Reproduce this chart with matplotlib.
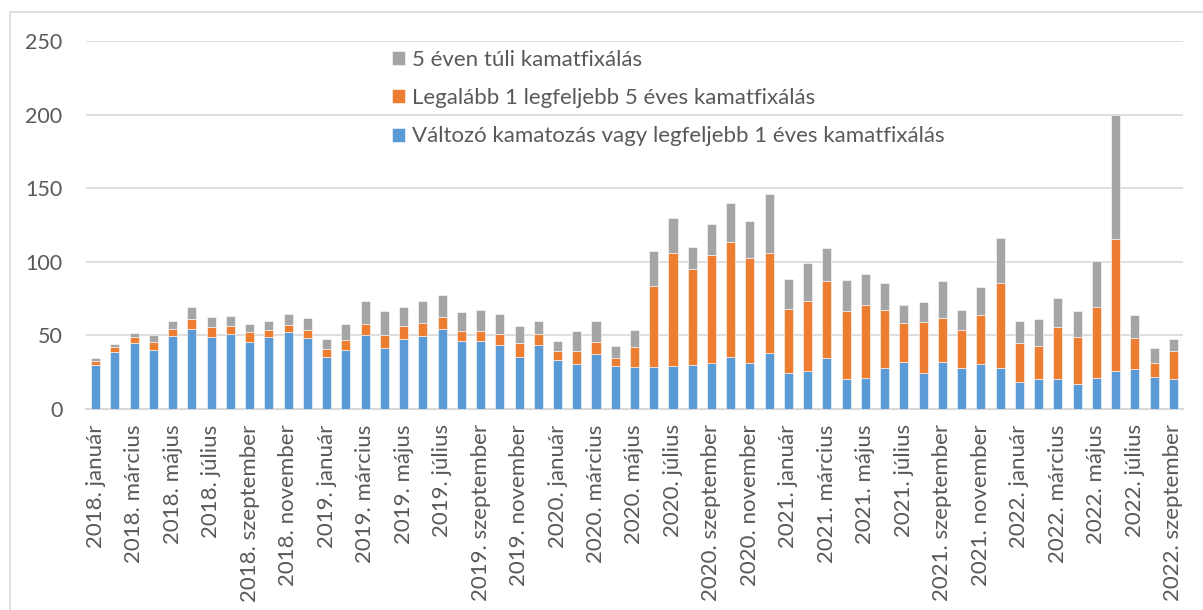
import matplotlib.pyplot as plt
import numpy as np
from matplotlib.patches import Rectangle

# --- adatok ---
years = [2018, 2019, 2020, 2021, 2022]
months = ['január', 'február', 'március', 'április', 'május', 'június',
          'július', 'augusztus', 'szeptember', 'október', 'november', 'december']
categories = [f"{y}. {m}" for y in years for m in months][:57]  # 2018. jan - 2022. szept

valtozo = [30, 38.5, 45, 40, 49.3, 54.5, 49.1, 50.9, 45.7, 49.1, 52, 48.4, 35.5, 40, 50,
           41.6, 47.7, 49.3, 54.5, 45.9, 46.4, 43.7, 35.5, 43.7, 33.5, 30.5, 37.1, 29.2, 28.3, 28.6,
           29.5, 29.9, 31, 35.3, 31.5, 38.3, 24.5, 25.8, 34.4, 20.4, 21.1, 27.8, 31.7,
           24.3, 31.7, 28.1, 30.6, 28.1, 18.6, 20.2, 20.2, 16.8, 20.9, 25.6, 27.4, 21.5, 20.2]
egy_ot = [2.5, 3.6, 3.9, 5.2, 5.0, 6.8, 6.6, 5.4, 6.6, 4.7, 5.2, 5.4, 5.2, 6.8, 7.5,
          8.6, 8.4, 9.1, 7.9, 7.0, 6.5, 7.5, 9.3, 7.4, 6.1, 8.6, 8.1, 5.6, 13.7, 54.8,
          76.5, 65.0, 73.9, 78.0, 71.1, 67.5, 43.2, 47.6, 52.6, 46.0, 49.4, 39.6, 26.5,
          35.1, 30.2, 25.8, 33.1, 57.8, 26.5, 22.9, 35.3, 32.4, 48.7, 90.0, 21.1, 9.6, 19.2]
ot_felett = [2.0, 2.2, 2.9, 5.0, 5.2, 7.7, 6.5, 6.8, 5.2, 5.7, 7.3, 7.7, 6.6, 11.1, 15.8,
             16.5, 13.4, 14.9, 15.0, 13.1, 14.1, 13.6, 11.3, 8.9, 6.8, 14.1, 14.5, 7.7, 12.0, 24.2,
             23.8, 15.2, 20.8, 26.5, 25.4, 40.3, 20.4, 26.1, 22.2, 21.0, 21.0, 18.4, 12.5,
             13.4, 24.9, 13.6, 19.3, 30.6, 14.5, 18.1, 20.0, 17.4, 31.0, 83.9, 15.2, 10.6, 8.4]

series_labels = ['Változó kamatozás vagy legfeljebb 1 éves kamatfixálás',
                 'Legalább 1 legfeljebb 5 éves kamatfixálás',
                 '5 éven túli kamatfixálás']
colors = ['#5B9BD5', '#ED7D31', '#A5A5A5']
y_ticks = [0, 50, 100, 150, 200, 250]

# --- stílus ---
plt.rcParams['font.family'] = ['Lato', 'DejaVu Sans']
plt.rcParams['font.size'] = 16
text_color = '#595959'
grid_color = '#D9D9D9'

fig = plt.figure(figsize=(12.03, 6.10), dpi=100)
ax = fig.add_axes([86 / 1203, 201 / 610, 1097 / 1203, 368 / 610])

x = np.arange(len(categories))
b1 = np.array(valtozo)
b2 = np.array(egy_ot)
b3 = np.array(ot_felett)

bars = []
bars.append(ax.bar(x, b1, width=0.47, color=colors[0], edgecolor='white', linewidth=0.4, zorder=3))
bars.append(ax.bar(x, b2, width=0.47, bottom=b1, color=colors[1], edgecolor='white', linewidth=0.4, zorder=3))
bars.append(ax.bar(x, b3, width=0.47, bottom=b1 + b2, color=colors[2], edgecolor='white', linewidth=0.4, zorder=3))

ax.set_xlim(-0.5, len(categories) - 0.5)
ax.set_ylim(0, 250)
ax.set_yticks(y_ticks)
ax.yaxis.grid(True, color=grid_color, linewidth=1.2, zorder=0)
ax.set_axisbelow(True)

ax.set_xticks(x[::2])
ax.set_xticklabels(categories[::2], rotation=90, color=text_color)
ax.tick_params(axis='x', length=0, pad=11)
ax.tick_params(axis='y', length=0, pad=17, colors=text_color, labelsize=15.5)

for s in ['top', 'right', 'left']:
    ax.spines[s].set_visible(False)
ax.spines['bottom'].set_color(grid_color)
ax.spines['bottom'].set_linewidth(1.5)

# jelmagyarázat (fordított sorrend)
leg = fig.legend(bars[::-1], series_labels[::-1], loc='upper left',
                 bbox_to_anchor=(392 / 1203, 1 - 50 / 610), frameon=False,
                 handlelength=0.6, handleheight=0.6, handletextpad=0.3,
                 labelspacing=0.82, borderaxespad=0, borderpad=0)
for t in leg.get_texts():
    t.set_color(text_color)

# diagram kerete
fig.patches.append(Rectangle((10 / 1203, -0.1), 1.2, 1.1 - 12 / 610,
                             transform=fig.transFigure, fill=False,
                             edgecolor=grid_color, linewidth=1.2))

fig.savefig('out.png', dpi=100)
